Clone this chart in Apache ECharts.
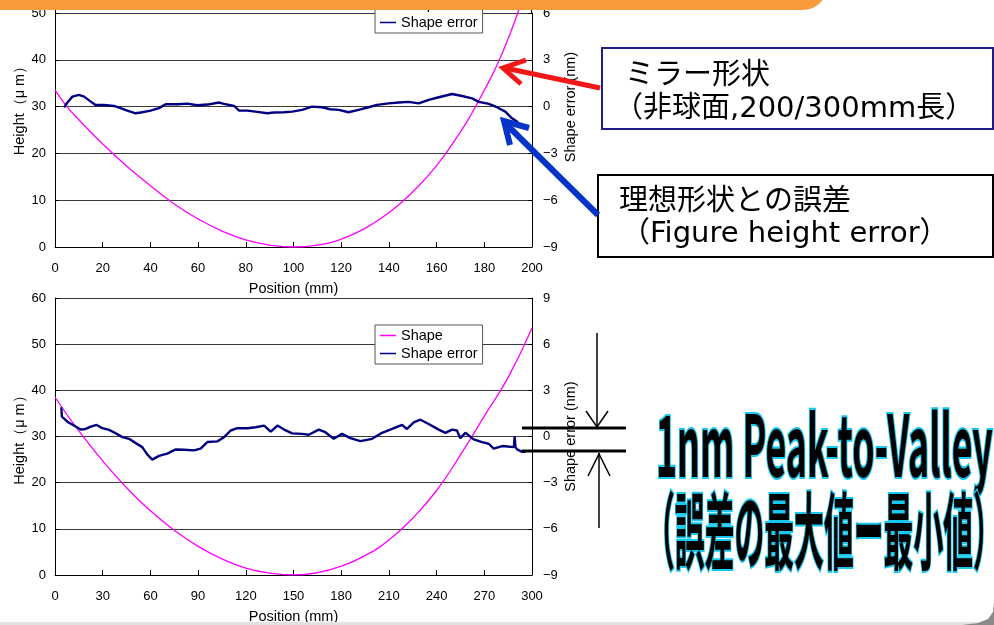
<!DOCTYPE html>
<html><head><meta charset="utf-8">
<script src="https://cdn.jsdelivr.net/npm/echarts@6/dist/echarts.min.js"></script>
<style>html,body{margin:0;padding:0;background:#fff}#c{width:994px;height:625px}</style>
</head><body><div id="c"></div>
<script>
// ---- Data ----
const topShapePos = [0,5,10,20,30,40,50,60,70,80,90,100,110,120,130,140,150,160,170,175,180,185,190,195,200];
const topShapeVal = [33.5,30.0,27.2,22.0,17.3,13.1,9.2,6.0,3.4,1.5,0.4,0.0,0.4,1.7,4.0,7.3,11.8,17.4,24.6,28.8,33.5,38.5,44.5,51.5,60];
const topErrPos = [3.8,5.2,7.3,10.0,12.2,15.0,17.0,20.5,24.7,27.5,30.3,33.8,35.9,40.1,43.6,46.4,51.3,55.5,59.7,63.9,68.8,70.9,75.1,77.2,80.6,84.8,89.0,91.8,96.0,99.5,103.6,107.8,112.0,115.4,119.0,123.1,127.3,131.5,135.0,139.9,144.1,148.3,152.5,156.7,160.9,166.5,170.7,174.9,177.7,181.9,185.3,188.8,191.6,193.7,194.4];
const topErrVal = [-0.05,0.26,0.64,0.75,0.64,0.32,0.10,0.10,0.04,-0.10,-0.26,-0.43,-0.38,-0.26,-0.10,0.15,0.15,0.19,0.09,0.13,0.26,0.17,0.04,-0.26,-0.26,-0.34,-0.43,-0.38,-0.36,-0.32,-0.21,0.00,-0.04,-0.17,-0.21,-0.36,-0.21,-0.04,0.11,0.21,0.26,0.30,0.21,0.43,0.60,0.81,0.68,0.53,0.30,0.17,-0.04,-0.32,-0.75,-0.96,-1.07];

const botShapePos = [0,15,30,45,60,75,90,105,120,135,150,165,180,195,210,225,240,255,270,285,300];
const botShapeVal = [38.5,31.2,24.7,18.9,13.9,9.7,6.2,3.5,1.5,0.4,0.0,0.5,1.9,4.2,7.6,12.3,18.3,26.0,34.4,42.8,53.5];
const botErrPos = [4.0,4.3,4.6,7.7,11.9,16.2,19.3,22.5,26.2,29.8,34.0,38.2,42.4,46.6,50.8,54.9,58.1,61.2,65.4,70.6,75.9,81.1,87.4,91.6,95.8,102.0,106.3,110.5,114.7,121.0,126.2,131.5,135.7,139.9,144.1,149.2,155.4,159.6,165.9,170.0,175.3,180.5,185.8,192.1,199.4,205.7,212.0,218.3,221.4,225.6,229.8,235.0,241.3,245.5,249.7,252.8,254.9,258.1,263.3,268.6,272.8,275.9,281.2,288.6,289.1,289.6,290.6,293.8,295.8];
const botErrVal = [1.9,1.3,1.24,0.96,0.71,0.45,0.49,0.64,0.75,0.54,0.43,0.21,-0.04,-0.15,-0.43,-0.69,-1.18,-1.50,-1.26,-1.11,-0.84,-0.86,-0.90,-0.79,-0.36,-0.32,-0.04,0.39,0.54,0.54,0.60,0.71,0.32,0.71,0.45,0.20,0.17,0.11,0.45,0.28,-0.15,0.17,-0.11,-0.30,-0.15,0.24,0.49,0.75,0.49,0.92,1.09,0.81,0.45,0.24,0.45,0.39,-0.11,0.24,-0.19,-0.36,-0.47,-0.79,-0.62,-0.69,0.00,-0.69,-0.84,-1.00,-1.00];

const topXTicks = {min:0,max:200,interval:20};
const botXTicks = {min:0,max:300,interval:30};
const topHeightTicks = {min:0,max:50,interval:10};
const botHeightTicks = {min:0,max:60,interval:10};
const topErrTicks = {min:-9,max:6,interval:3};
const botErrTicks = {min:-9,max:9,interval:3};

const zip = (a,b)=>a.map((v,i)=>[v,b[i]]);

const FONT = '"Liberation Sans", Arial, sans-serif';
const labelStyle = {color:'#000', fontSize:13, fontFamily:FONT};
const minusFmt = v => (v<0 ? '\u2212'+(-v) : String(v));
const NAME_SIZE = 14.5;

function xAx(idx, t){
  return {type:'value', gridIndex:idx, min:t.min, max:t.max, interval:t.interval,
    name:'Position (mm)', nameLocation:'middle', nameGap:34,
    nameTextStyle:{color:'#000', fontSize:NAME_SIZE, fontFamily:FONT},
    axisLine:{lineStyle:{color:'#000', width:1}},
    axisTick:{inside:true, length:5, lineStyle:{color:'#000'}},
    axisLabel:Object.assign({margin:15}, labelStyle),
    splitLine:{show:false}};
}
// shiftUp: move the (rotated) axis name upward on screen (px)
function yLeft(idx, t, shiftUp){
  return {type:'value', gridIndex:idx, position:'left', min:t.min, max:t.max, interval:t.interval,
    name:'Height（μ m）', nameLocation:'middle', nameGap:28, nameRotate:90,
    nameTextStyle:{color:'#000', fontSize:NAME_SIZE, fontFamily:FONT, padding:[0,0,0,2*shiftUp]},
    axisLine:{show:true, lineStyle:{color:'#000'}},
    axisTick:{show:true, inside:true, length:4, lineStyle:{color:'#000'}},
    axisLabel:Object.assign({margin:9}, labelStyle),
    splitLine:{show:true, lineStyle:{color:'#3a3a3a', width:1}}};
}
function yRight(idx, t, shiftUp){
  return {type:'value', gridIndex:idx, position:'right', min:t.min, max:t.max, interval:t.interval,
    name:'Shape error (nm)', nameLocation:'middle', nameGap:31, nameRotate:90,
    nameTextStyle:{color:'#000', fontSize:NAME_SIZE, fontFamily:FONT, padding:[0,0,0,2*shiftUp]},
    axisLine:{show:true, lineStyle:{color:'#000'}},
    axisTick:{show:true, inside:true, length:4, lineStyle:{color:'#000'}},
    axisLabel:Object.assign({margin:11, formatter:minusFmt}, labelStyle),
    splitLine:{show:false}};
}
const LINE_ICON = 'path://M0,0h0.01v14h-0.01z M0,6.2h16v1.6h-16z';
function legendAt(top){
  return {data:[{name:'Shape', icon:LINE_ICON},{name:'Shape error', icon:LINE_ICON}],
    orient:'vertical', left:375, top:top,
    backgroundColor:'#fff', borderColor:'#555', borderWidth:1, borderRadius:0,
    padding:[3,5,3,5], itemGap:3, itemWidth:16, itemHeight:14,
    selectedMode:false, textStyle:{color:'#000', fontSize:14.5, fontFamily:FONT}};
}

const chart = echarts.init(document.getElementById('c'), null, {renderer:'canvas'});
const annFont = '"DejaVu Sans", "Noto Sans CJK JP", sans-serif';
const bigFont = '"Noto Sans CJK JP", sans-serif';

chart.setOption({
  animation:false,
  backgroundColor:'#fff',
  grid:[
    {left:55, width:477, top:13, height:234},
    {left:55, width:477, top:298, height:280}
  ],
  xAxis:[xAx(0, topXTicks), xAx(1, botXTicks)],
  yAxis:[yLeft(0, topHeightTicks, 23), yRight(0, topErrTicks, 23), yLeft(1, botHeightTicks, 0), yRight(1, botErrTicks, 0)],
  legend:[legendAt(-6), legendAt(325)],
  series:[
    {name:'Shape', type:'line', xAxisIndex:0, yAxisIndex:0, data:zip(topShapePos, topShapeVal), smooth:true, clip:false, symbol:'none', lineStyle:{color:'#FF00FF', width:1.3}, itemStyle:{color:'#FF00FF'}, z:3},
    {name:'Shape error', type:'line', xAxisIndex:0, yAxisIndex:1, data:zip(topErrPos, topErrVal), symbol:'none', lineStyle:{color:'#000080', width:2.4}, itemStyle:{color:'#000080'}, z:4},
    {name:'Shape', type:'line', xAxisIndex:1, yAxisIndex:2, data:zip(botShapePos, botShapeVal), smooth:true, symbol:'none', lineStyle:{color:'#FF00FF', width:1.3}, itemStyle:{color:'#FF00FF'}, z:3},
    {name:'Shape error', type:'line', xAxisIndex:1, yAxisIndex:3, data:zip(botErrPos, botErrVal), symbol:'none', lineStyle:{color:'#000080', width:2.4}, itemStyle:{color:'#000080'}, z:4}
  ],
  graphic:[
    {type:'line', z:5, shape:{x1:55.5, y1:8, x2:55.5, y2:13}, style:{stroke:'#000', lineWidth:1}},
    {type:'line', z:5, shape:{x1:531.5, y1:8, x2:531.5, y2:13}, style:{stroke:'#000', lineWidth:1}},
    {type:'rect', z:100, shape:{x:-30, y:-40, width:857, height:50, r:[0,0,24,0]}, style:{fill:'#F99B3A'}},
    {type:'rect', z:100, shape:{x:602, y:48, width:391, height:81}, style:{fill:'#fff', stroke:'#1C1C8C', lineWidth:2}},
    {type:'text', z:101, x:625, y:76, style:{text:'ミラー形状', font:'29px '+annFont, fill:'#000', verticalAlign:'middle'}},
    {type:'text', z:101, x:614, y:109, style:{text:'（非球面,200/300mm長）', font:'29px '+annFont, fill:'#000', verticalAlign:'middle'}},
    {type:'rect', z:100, shape:{x:598, y:175, width:395, height:82}, style:{fill:'#fff', stroke:'#000', lineWidth:2}},
    {type:'text', z:101, x:619, y:202, style:{text:'理想形状との誤差', font:'29px '+annFont, fill:'#000', verticalAlign:'middle'}},
    {type:'text', z:101, x:621, y:234, style:{text:'（Figure height error）', font:'29px '+annFont, fill:'#000', verticalAlign:'middle'}},
    {type:'polyline', z:102, shape:{points:[[600,88],[505,68]]}, style:{stroke:'#F21818', lineWidth:5}},
    {type:'polyline', z:102, shape:{points:[[526,60],[503,68],[521,84]]}, style:{stroke:'#F21818', lineWidth:5, fill:null}},
    {type:'polyline', z:102, shape:{points:[[598,215],[506,124]]}, style:{stroke:'#0633C8', lineWidth:6}},
    {type:'polyline', z:102, shape:{points:[[529,128],[504,121],[510,145]]}, style:{stroke:'#0633C8', lineWidth:6, fill:null}},
    {type:'line', z:102, shape:{x1:522, y1:428, x2:626, y2:428}, style:{stroke:'#000', lineWidth:3}},
    {type:'line', z:102, shape:{x1:522, y1:451, x2:626, y2:451}, style:{stroke:'#000', lineWidth:3}},
    {type:'line', z:102, shape:{x1:597, y1:333, x2:597, y2:427}, style:{stroke:'#000', lineWidth:1.5}},
    {type:'polyline', z:102, shape:{points:[[586,411],[597,427],[608,411]]}, style:{stroke:'#000', lineWidth:1.5, fill:null}},
    {type:'line', z:102, shape:{x1:599, y1:528, x2:599, y2:453}, style:{stroke:'#000', lineWidth:1.5}},
    {type:'polyline', z:102, shape:{points:[[588,476],[599,454],[610,476]]}, style:{stroke:'#000', lineWidth:1.5, fill:null}},
    {type:'text', z:103, x:656, y:403, scaleX:0.436, scaleY:1.03,
      style:{text:'1nm Peak-to-Valley', font:'bold 82px '+bigFont, fill:'#000', stroke:'#19C8F0', lineWidth:4, verticalAlign:'top'}},
    {type:'text', z:103, x:645, y:489, scaleX:0.355, scaleY:1,
      style:{text:'（誤差の最大値ー最小値）', font:'bold 84px '+bigFont, fill:'#000', stroke:'#19C8F0', lineWidth:4, verticalAlign:'top'}},
    {type:'rect', z:90, shape:{x:0, y:622, width:994, height:3}, style:{fill:'#e2e2e2'}},
    {type:'polygon', z:91, shape:{points:[[994,602],[993,612],[988,619],[978,623],[962,625],[994,625]]}, style:{fill:'#8a8a8a'}}
  ]
});
</script></body></html>
